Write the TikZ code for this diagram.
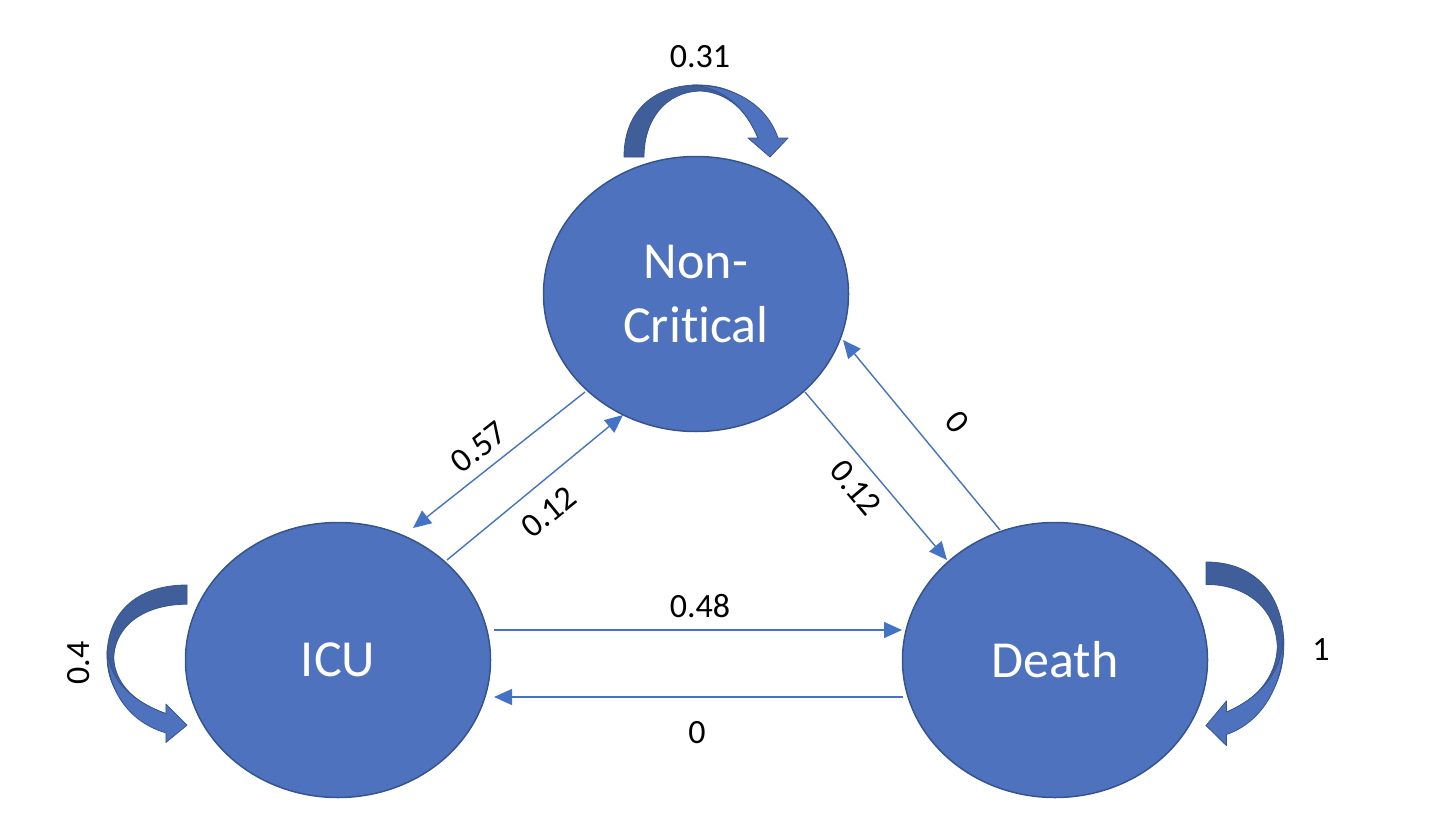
\documentclass[tikz,border=0pt]{standalone}
\usepackage{fontspec}
\setmainfont[Ligatures=NoCommon,RawFeature={-liga;-clig;-calt}]{Carlito}
\usetikzlibrary{shapes.geometric,arrows.meta,calc}
\definecolor{nodefill}{HTML}{4F72BE}
\definecolor{nodeline}{HTML}{35548F}
\definecolor{conncol}{HTML}{4472C4}
\definecolor{loopdark}{HTML}{3F5E9A}
\definecolor{looplight}{HTML}{4F72BE}
\newcommand{\drawselfloop}{%
  \filldraw[loopd] (0,0) .. controls (0,-47) and (31,-72) .. (74,-72)
     .. controls (111,-72) and (136,-52) .. (148,-20) -- (134,-19)
     .. controls (124,-45) and (104,-65) .. (76,-66)
     .. controls (41,-65) and (20,-37) .. (20,0) -- cycle;
  \filldraw[loopl] (68,-72) .. controls (114,-72) and (144,-49) .. (154,-19)
     -- (164,-19) -- (146,0) -- (124,-19) -- (134,-19)
     .. controls (121,-49) and (101,-69) .. (68,-72) -- cycle;
}
\begin{document}
\begin{tikzpicture}[x=1pt,y=-1pt,
  state/.style={ellipse, fill=nodefill, draw=nodeline, line width=1.5pt,
    minimum width=305pt, minimum height=275pt, inner sep=0pt, text=white,
    font=\fontsize{52}{64}\selectfont, align=center},
  link/.style={draw=conncol, line width=1.4pt, -{Triangle[length=18pt,width=16pt]}},
  lbl/.style={font=\fontsize{34}{40}\selectfont, inner sep=0pt, text=black},
  loopd/.style={fill=loopdark, draw=nodeline, line width=0.8pt, line join=round},
  loopl/.style={fill=looplight, draw=nodeline, line width=0.8pt, line join=round}]
\useasboundingbox (0,0) rectangle (1442,832);

% states
\node[state] (nc) at (696,294) {Non-\\Crit\kern0pt ical};
\node[state] (icu) at (338,660) {ICU};
\node[state] (death) at (1055,660) {Death};

% self loops
\begin{scope}[shift={(624,157)}]
  \drawselfloop
\end{scope}
\begin{scope}[shift={(187,585)}, xscale=1.11, yscale=0.96, cm={0,-1,-1,0,(0,0)}]
  \drawselfloop
\end{scope}
\begin{scope}[shift={(1206,562)}, xscale=-1.08, yscale=1.12, cm={0,-1,-1,0,(0,0)}]
  \drawselfloop
\end{scope}

% transitions
\draw[link] ($(icu.center)+(156,-30)$) -- ($(death.center)+(-153,-30)$);
\draw[link] ($(death.center)+(-152,37)$) -- ($(icu.center)+(156,37)$);
\draw[link] ($(nc.center)+(-111,98)$) -- ($(icu.center)+(75,-132)$);
\draw[link] ($(icu.center)+(109,-100)$) -- ($(nc.center)+(-73,121)$);
\draw[link] ($(nc.center)+(109,98)$) -- ($(death.center)+(-108,-100)$);
\draw[link] ($(death.center)+(-55,-130)$) -- ($(nc.center)+(147,46)$);

% labels
\node[lbl] (l31) at (700,57) {0.31};
\node[lbl, rotate=90] (l04) at (79,663) {0.4};
\node[lbl] (l1) at (1321,650) {1};
\node[lbl] (l48) at (700,606) {0.48};
\node[lbl] (l0b) at (697,733) {0};
\node[lbl, rotate=38] (l57) at (479,447) {0.57};
\node[lbl, rotate=39] (l12a) at (549,512) {0.12};
\node[lbl, rotate=-50] (l12b) at (856,488) {0.12};
\node[lbl, rotate=-50] (l0d) at (957,422) {0};
\end{tikzpicture}
\end{document}
